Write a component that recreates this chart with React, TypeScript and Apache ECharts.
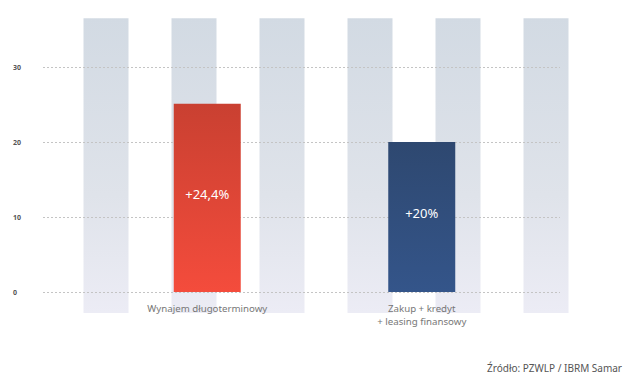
import React, { useEffect, useRef } from "react";
import * as echarts from "echarts";

const categories = ["Wynajem długoterminowy", "Zakup + kredyt\n+ leasing finansowy"];
const values = [25.1, 20];
const valueLabels = ["+24,4%", "+20%"];
const bgCategories = ["a", "b", "c", "d", "e", "f"];
const bgTop = [36.5, 36.5, 36.5, 36.5, 36.5, 36.5];
const bgBottom = [-2.8, -2.8, -2.8, -2.8, -2.8, -2.8];
const yTicks = [0, 10, 20, 30];
const source = "Źródło: PZWLP / IBRM Samar";

export default function App() {
  const ref = useRef<HTMLDivElement>(null);
  useEffect(() => {
    if (!ref.current) return;
    const chart = echarts.init(ref.current, null, { renderer: "svg" });
    const FONT = "'Noto Sans', 'DejaVu Sans', sans-serif";
    const yBase = { type: "value", min: yTicks[0], max: yTicks[yTicks.length - 1], interval: 10 };
    const bgColor = {
      type: "linear", x: 0, y: 18, x2: 0, y2: 313, global: true,
      colorStops: [
        { offset: 0, color: "#d2dae3" },
        { offset: 0.6, color: "#dfe3ea" },
        { offset: 1, color: "#ececf5" },
      ],
    };
    chart.setOption({
      animation: false,
      backgroundColor: "#ffffff",
      grid: [
        { left: 62, right: 37, top: 67, bottom: 84 },
        { left: 43, right: 67, top: 67, bottom: 84 },
        { left: 100, right: 98, top: 67, bottom: 84 },
      ],
      xAxis: [
        { type: "category", gridIndex: 0, data: bgCategories, show: false },
        { type: "category", gridIndex: 1, data: ["x"], show: false },
        {
          type: "category", gridIndex: 2, data: categories,
          axisLine: { show: false }, axisTick: { show: false },
          axisLabel: { color: "#777", fontSize: 9.7, fontFamily: FONT, margin: 10, lineHeight: 13 },
        },
      ],
      yAxis: [
        { ...yBase, gridIndex: 0, show: false },
        {
          ...yBase, gridIndex: 1, z: 1,
          axisLine: { show: false }, axisTick: { show: false },
          axisLabel: { color: "#555", fontSize: 7, fontWeight: "bold", fontFamily: FONT, align: "left", margin: 30 },
          splitLine: { show: true, lineStyle: { color: "#c4c4c4", type: [2, 2], width: 1 } },
        },
        { ...yBase, gridIndex: 2, show: false },
      ],
      series: [
        {
          type: "bar", xAxisIndex: 0, yAxisIndex: 0, data: bgTop, stack: "bg",
          barWidth: 45, clip: false, z: 0, silent: true,
          itemStyle: { color: bgColor },
        },
        {
          type: "bar", xAxisIndex: 0, yAxisIndex: 0, data: bgBottom, stack: "bg",
          barWidth: 45, clip: false, z: 0, silent: true,
          itemStyle: { color: bgColor },
        },
        {
          type: "bar", xAxisIndex: 2, yAxisIndex: 2, barWidth: 67, z: 3,
          data: values.map((v, i) => ({
            value: v,
            itemStyle: {
              color: i === 0
                ? { type: "linear", x: 0, y: 0, x2: 0, y2: 1, colorStops: [{ offset: 0, color: "#c94031" }, { offset: 1, color: "#f44c3c" }] }
                : { type: "linear", x: 0, y: 0, x2: 0, y2: 1, colorStops: [{ offset: 0, color: "#2e4870" }, { offset: 1, color: "#34558a" }] },
            },
          })),
          label: {
            show: true, position: "inside", offset: [0, -4],
            color: "#ffffff", fontSize: 13, fontFamily: FONT,
            formatter: (p: any) => valueLabels[p.dataIndex],
          },
        },
      ],
      graphic: [
        {
          type: "text", right: 5, top: 363,
          style: { text: source, fill: "#555", fontSize: 10, fontFamily: FONT },
        },
      ],
    });
    return () => chart.dispose();
  }, []);
  return <div ref={ref} style={{ position: "fixed", left: 0, top: 0, width: 627, height: 376 }} />;
}
